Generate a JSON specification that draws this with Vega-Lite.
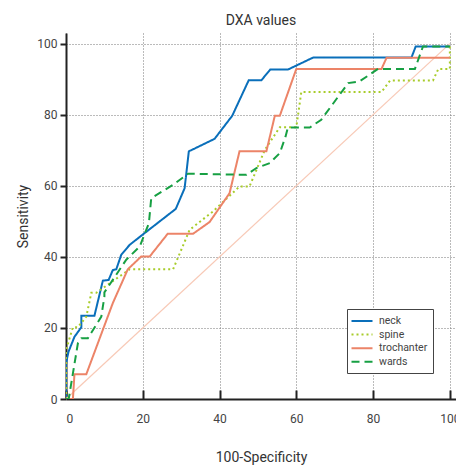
{
  "$schema": "https://vega.github.io/schema/vega-lite/v6.json",
  "width": 390,
  "height": 366,
  "autosize": {"type": "none"},
  "padding": {"left": 66, "top": 33, "right": 0, "bottom": 66},
  "title": {"text": "DXA values", "fontSize": 14, "fontWeight": "normal", "font": "Roboto", "color": "#333", "offset": 5, "anchor": "middle"},
  "config": {
    "view": {"stroke": null},
    "font": "Roboto",
    "axis": {"labelFont": "Roboto", "titleFont": "Roboto", "labelColor": "#444", "titleColor": "#333", "labelFontSize": 12, "titleFontSize": 14, "titleFontWeight": "normal", "domainColor": "#222", "domainWidth": 2, "tickColor": "#222", "tickWidth": 2, "gridColor": "#777", "gridDash": [1, 2], "gridWidth": 1, "gridOpacity": 1}
  },
  "datasets": {
    "diag": [{"fpr": 0, "tpr": 0}, {"fpr": 100, "tpr": 100}],
    "roc": [
      {"s": "neck", "i": 0, "fpr": 0, "tpr": 0},
      {"s": "neck", "i": 1, "fpr": 0, "tpr": 10},
      {"s": "neck", "i": 2, "fpr": 0.65, "tpr": 13.3},
      {"s": "neck", "i": 3, "fpr": 2.2, "tpr": 17.5},
      {"s": "neck", "i": 4, "fpr": 4, "tpr": 20.2},
      {"s": "neck", "i": 5, "fpr": 4, "tpr": 23.4},
      {"s": "neck", "i": 6, "fpr": 7.4, "tpr": 23.4},
      {"s": "neck", "i": 7, "fpr": 9.6, "tpr": 33.3},
      {"s": "neck", "i": 8, "fpr": 11.1, "tpr": 33.5},
      {"s": "neck", "i": 9, "fpr": 12.2, "tpr": 36.3},
      {"s": "neck", "i": 10, "fpr": 13.1, "tpr": 36.5},
      {"s": "neck", "i": 11, "fpr": 14.4, "tpr": 40.6},
      {"s": "neck", "i": 12, "fpr": 16.6, "tpr": 43.4},
      {"s": "neck", "i": 13, "fpr": 19.9, "tpr": 46.2},
      {"s": "neck", "i": 14, "fpr": 28.6, "tpr": 53.5},
      {"s": "neck", "i": 15, "fpr": 30.9, "tpr": 59.3},
      {"s": "neck", "i": 16, "fpr": 32, "tpr": 69.7},
      {"s": "neck", "i": 17, "fpr": 38.7, "tpr": 73.2},
      {"s": "neck", "i": 18, "fpr": 43.3, "tpr": 79.7},
      {"s": "neck", "i": 19, "fpr": 47.6, "tpr": 89.7},
      {"s": "neck", "i": 20, "fpr": 50.9, "tpr": 89.7},
      {"s": "neck", "i": 21, "fpr": 53.2, "tpr": 92.7},
      {"s": "neck", "i": 22, "fpr": 57.8, "tpr": 92.7},
      {"s": "neck", "i": 23, "fpr": 64.4, "tpr": 96.1},
      {"s": "neck", "i": 24, "fpr": 90, "tpr": 96.1},
      {"s": "neck", "i": 25, "fpr": 91.1, "tpr": 99.2},
      {"s": "neck", "i": 26, "fpr": 100, "tpr": 99.2},

      {"s": "spine", "i": 0, "fpr": 0, "tpr": 0},
      {"s": "spine", "i": 1, "fpr": 0, "tpr": 13.8},
      {"s": "spine", "i": 2, "fpr": 1.8, "tpr": 20.2},
      {"s": "spine", "i": 3, "fpr": 3.1, "tpr": 20.2},
      {"s": "spine", "i": 4, "fpr": 5.3, "tpr": 23.2},
      {"s": "spine", "i": 5, "fpr": 6.6, "tpr": 29.9},
      {"s": "spine", "i": 6, "fpr": 7.9, "tpr": 29.9},
      {"s": "spine", "i": 7, "fpr": 16.6, "tpr": 36.5},
      {"s": "spine", "i": 8, "fpr": 27.9, "tpr": 36.5},
      {"s": "spine", "i": 9, "fpr": 32.2, "tpr": 47.6},
      {"s": "spine", "i": 10, "fpr": 38.3, "tpr": 52.8},
      {"s": "spine", "i": 11, "fpr": 45.2, "tpr": 59.8},
      {"s": "spine", "i": 12, "fpr": 47.8, "tpr": 59.8},
      {"s": "spine", "i": 13, "fpr": 51.8, "tpr": 70.1},
      {"s": "spine", "i": 14, "fpr": 55.7, "tpr": 76.5},
      {"s": "spine", "i": 15, "fpr": 60, "tpr": 76.5},
      {"s": "spine", "i": 16, "fpr": 61.3, "tpr": 86.4},
      {"s": "spine", "i": 17, "fpr": 82.2, "tpr": 86.4},
      {"s": "spine", "i": 18, "fpr": 84.4, "tpr": 89.6},
      {"s": "spine", "i": 19, "fpr": 95.6, "tpr": 89.6},
      {"s": "spine", "i": 20, "fpr": 97, "tpr": 92.9},
      {"s": "spine", "i": 21, "fpr": 100, "tpr": 92.9},
      {"s": "spine", "i": 22, "fpr": 100, "tpr": 100},

      {"s": "trochanter", "i": 0, "fpr": 0, "tpr": 0},
      {"s": "trochanter", "i": 1, "fpr": 1.8, "tpr": 0},
      {"s": "trochanter", "i": 2, "fpr": 2.2, "tpr": 7},
      {"s": "trochanter", "i": 3, "fpr": 5.3, "tpr": 7},
      {"s": "trochanter", "i": 4, "fpr": 12.2, "tpr": 27},
      {"s": "trochanter", "i": 5, "fpr": 16.1, "tpr": 36.5},
      {"s": "trochanter", "i": 6, "fpr": 19.6, "tpr": 40.1},
      {"s": "trochanter", "i": 7, "fpr": 21.8, "tpr": 40.1},
      {"s": "trochanter", "i": 8, "fpr": 26.5, "tpr": 46.5},
      {"s": "trochanter", "i": 9, "fpr": 33.1, "tpr": 46.5},
      {"s": "trochanter", "i": 10, "fpr": 37.4, "tpr": 49.8},
      {"s": "trochanter", "i": 11, "fpr": 42.6, "tpr": 57.9},
      {"s": "trochanter", "i": 12, "fpr": 45.2, "tpr": 69.7},
      {"s": "trochanter", "i": 13, "fpr": 52.2, "tpr": 69.7},
      {"s": "trochanter", "i": 14, "fpr": 54.4, "tpr": 79.7},
      {"s": "trochanter", "i": 15, "fpr": 55.7, "tpr": 79.7},
      {"s": "trochanter", "i": 16, "fpr": 60, "tpr": 92.9},
      {"s": "trochanter", "i": 17, "fpr": 82.2, "tpr": 92.9},
      {"s": "trochanter", "i": 18, "fpr": 83.5, "tpr": 96},
      {"s": "trochanter", "i": 19, "fpr": 100, "tpr": 96},

      {"s": "wards", "i": 0, "fpr": 0, "tpr": 0},
      {"s": "wards", "i": 1, "fpr": 0.7, "tpr": 0},
      {"s": "wards", "i": 2, "fpr": 1.8, "tpr": 7.2},
      {"s": "wards", "i": 3, "fpr": 3.1, "tpr": 15.7},
      {"s": "wards", "i": 4, "fpr": 4, "tpr": 17.1},
      {"s": "wards", "i": 5, "fpr": 5.7, "tpr": 17.1},
      {"s": "wards", "i": 6, "fpr": 9.2, "tpr": 23.2},
      {"s": "wards", "i": 7, "fpr": 10, "tpr": 28.8},
      {"s": "wards", "i": 8, "fpr": 10, "tpr": 30},
      {"s": "wards", "i": 9, "fpr": 15.7, "tpr": 39.2},
      {"s": "wards", "i": 10, "fpr": 19.2, "tpr": 42.9},
      {"s": "wards", "i": 11, "fpr": 21.6, "tpr": 49.5},
      {"s": "wards", "i": 12, "fpr": 22.2, "tpr": 56.5},
      {"s": "wards", "i": 13, "fpr": 27.9, "tpr": 60.3},
      {"s": "wards", "i": 14, "fpr": 31.8, "tpr": 63.4},
      {"s": "wards", "i": 15, "fpr": 47, "tpr": 63.1},
      {"s": "wards", "i": 16, "fpr": 49.6, "tpr": 65},
      {"s": "wards", "i": 17, "fpr": 53.1, "tpr": 66.4},
      {"s": "wards", "i": 18, "fpr": 55.7, "tpr": 69.2},
      {"s": "wards", "i": 19, "fpr": 57.2, "tpr": 73.9},
      {"s": "wards", "i": 20, "fpr": 57.8, "tpr": 76.4},
      {"s": "wards", "i": 21, "fpr": 63.5, "tpr": 76.4},
      {"s": "wards", "i": 22, "fpr": 66.5, "tpr": 78.6},
      {"s": "wards", "i": 23, "fpr": 73.5, "tpr": 88.9},
      {"s": "wards", "i": 24, "fpr": 76.5, "tpr": 89.4},
      {"s": "wards", "i": 25, "fpr": 81.3, "tpr": 92.9},
      {"s": "wards", "i": 26, "fpr": 90.9, "tpr": 92.9},
      {"s": "wards", "i": 27, "fpr": 93, "tpr": 99.2},
      {"s": "wards", "i": 28, "fpr": 100, "tpr": 99.2}
    ]
  },
  "layer": [
    {
      "data": {"name": "diag"},
      "mark": {"type": "line", "color": "#f8c9b6", "strokeWidth": 1.2},
      "encoding": {
        "x": {"field": "fpr", "type": "quantitative", "scale": {"domain": [0, 101.6], "nice": false},
          "axis": {"title": "100-Specificity", "values": [0, 20, 40, 60, 80, 100], "tickSize": -9, "labelPadding": 23, "titlePadding": 26, "grid": true}},
        "y": {"field": "tpr", "type": "quantitative", "scale": {"domain": [0, 103], "nice": false},
          "axis": {"title": "Sensitivity", "values": [0, 20, 40, 60, 80, 100], "tickSize": 6, "labelPadding": 3, "titlePadding": 6, "grid": true}}
      }
    },
    {
      "data": {"name": "roc"},
      "mark": {"type": "line", "strokeWidth": 2, "clip": true},
      "encoding": {
        "x": {"field": "fpr", "type": "quantitative"},
        "y": {"field": "tpr", "type": "quantitative"},
        "order": {"field": "i", "type": "quantitative"},
        "color": {"field": "s", "type": "nominal",
          "scale": {"domain": ["neck", "spine", "trochanter", "wards"], "range": ["#0a6fba", "#a8cc2a", "#ec8468", "#17a043"]},
          "legend": {"title": null, "orient": "none", "legendX": 281, "legendY": 276, "fillColor": "white", "strokeColor": "#444", "padding": 5, "symbolType": "M-1.75,0H1.75", "symbolSize": 144, "symbolStrokeWidth": 2, "symbolOffset": 3, "labelFontSize": 10.5, "labelFont": "Roboto", "labelColor": "#444", "rowPadding": 0.6, "labelOffset": 10}},
        "strokeDash": {"field": "s", "type": "nominal",
          "scale": {"domain": ["neck", "spine", "trochanter", "wards"], "range": [[1, 0], [2, 3], [1, 0], [8, 5]]},
          "legend": null}
      }
    }
  ]
}
